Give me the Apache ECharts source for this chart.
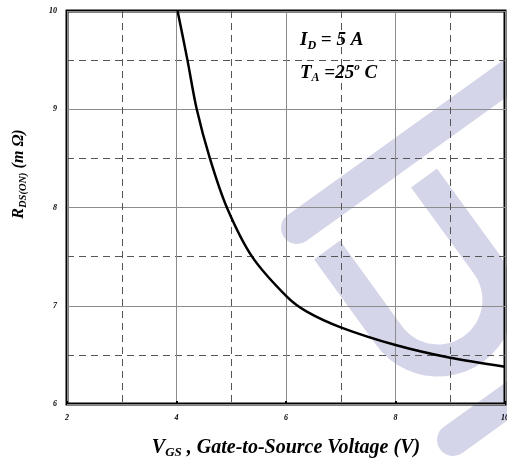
<!DOCTYPE html>
<html>
<head>
<meta charset="utf-8">
<script src="https://cdn.jsdelivr.net/npm/echarts@6/dist/echarts.min.js"></script>
<style>
  html, body { margin: 0; padding: 0; background: #fff; }
  #main { width: 507px; height: 461px; }
</style>
</head>
<body>
<div id="main"></div>
<script>
// Vgs (V) and Rds(on) (mOhm)
let vgs = [4.02, 4.2, 4.37, 4.61, 4.92, 5.38, 6.02, 6.38, 7.0, 8.0, 9.0, 10.0];
let rds = [10, 9.5, 9.0, 8.5, 8.0, 7.5, 7.09, 6.94, 6.78, 6.6, 6.47, 6.38];
let xTicks = [2, 4, 6, 8, 10];
let yTicks = [6, 7, 8, 9, 10];

let serif = '"Liberation Serif", "DejaVu Serif", serif';
let lav = '#d5d5e9';

let pts = vgs.map((v, i) => [v, rds[i]]);

// 水印里的U形
let uPts = [[327, 250]];
let cx = 438, cy = 300, rad = 60.5;
let a0 = Math.atan2(35.7, -49);
for (let k = 0; k <= 24; k++) {
  let a = a0 - Math.PI * k / 24;
  uPts.push([cx + rad * Math.cos(a), cy + rad * Math.sin(a)]);
}
uPts.push([424, 178]);

var myChart = echarts.init(document.getElementById('main'));

// 标签样式
let lbl = { fontFamily: serif, fontStyle: 'italic', fontWeight: 'bold', fontSize: 8, color: '#000' };
function bi(size, extra) {
  return Object.assign({ fontFamily: serif, fontStyle: 'italic', fontWeight: 'bold', fontSize: size, color: '#000' }, extra || {});
}
let big = bi(19, { lineHeight: 22 });
let sub = bi(12, { verticalAlign: 'bottom', lineHeight: 22 });

var option = {
  animation: false,
  grid: { left: 67, top: 11, right: 2, bottom: 57, show: true, borderColor: '#000', borderWidth: 3, outerBoundsMode: 'none' },
  graphic: [
    // watermark
    { type: 'polyline', z: -5, silent: true,
      shape: { points: [[297, 228], [560, 39]] },
      style: { stroke: lav, lineWidth: 32, lineCap: 'round', fill: null } },
    { type: 'polyline', z: -5, silent: true,
      shape: { points: uPts },
      style: { stroke: lav, lineWidth: 32, lineCap: 'butt', lineJoin: 'round', fill: null } },
    { type: 'polyline', z: -5, silent: true,
      shape: { points: [[453, 440], [560, 363]] },
      style: { stroke: lav, lineWidth: 32, lineCap: 'round', fill: null } },
    // I_D / T_A
    { type: 'text', left: 300, top: 31, z: 10,
      style: { text: '{a|I}{s|D}{a| = 5 A}', rich: { a: big, s: sub } } },
    { type: 'text', left: 300, top: 62, z: 10,
      style: { text: '{a|T}{s|A}{a| =25}{o|o}{a| C}',
        rich: { a: big, s: sub, o: bi(11, { verticalAlign: 'top', lineHeight: 22 }) } } },
    // y axis title
    { type: 'text', x: 19, y: 174, rotation: Math.PI / 2, z: 10,
      style: { text: '{r|R}{s|DS(ON)}{r| (m Ω)}', align: 'center', verticalAlign: 'middle',
        rich: { r: bi(16, { lineHeight: 19 }), s: bi(10.5, { verticalAlign: 'bottom', lineHeight: 19 }) } } }
  ],
  xAxis: {
    type: 'value', min: 2, max: 10, interval: 2,
    name: '{v|V}{s|GS}{v| , Gate-to-Source Voltage (V)}',
    nameLocation: 'middle', nameGap: 32,
    nameTextStyle: { rich: { v: bi(20, { lineHeight: 23 }), s: bi(13, { verticalAlign: 'bottom', lineHeight: 23 }) } },
    axisLine: { show: false },
    axisTick: { show: true, inside: true, length: 3, lineStyle: { color: '#000', width: 2 } },
    axisLabel: Object.assign({ margin: 10, formatter: v => xTicks.indexOf(v) >= 0 ? String(v) : '' }, lbl),
    splitLine: { show: true, lineStyle: { color: '#8c8c8c', width: 1 } },
    minorTick: { show: false, splitNumber: 2 },
    minorSplitLine: { show: true, lineStyle: { color: '#555', width: 1, type: [7, 5] } }
  },
  yAxis: {
    type: 'value', min: 6, max: 10, interval: 1,
    axisLine: { show: false },
    axisTick: { show: false },
    axisLabel: Object.assign({ margin: 10, formatter: v => yTicks.indexOf(v) >= 0 ? String(v) : '' }, lbl),
    splitLine: { show: true, lineStyle: { color: '#8c8c8c', width: 1 } },
    minorTick: { show: false, splitNumber: 2 },
    minorSplitLine: { show: true, lineStyle: { color: '#555', width: 1, type: [7, 5] } }
  },
  series: [{
    type: 'line',
    data: pts,
    smooth: 0.3,
    showSymbol: false,
    lineStyle: { color: '#000', width: 2.5 },
    z: 5
  }]
};

myChart.setOption(option);
</script>
</body>
</html>
